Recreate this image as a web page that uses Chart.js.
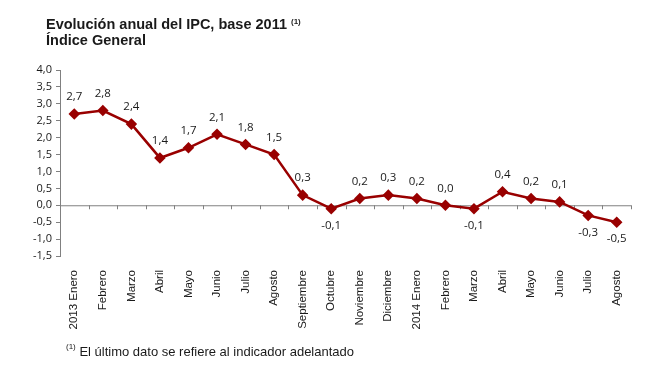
<!DOCTYPE html>
<html>
<head>
<meta charset="utf-8">
<script src="https://cdn.jsdelivr.net/npm/chart.js@4"></script>
<style>
  body { margin: 0; background: #fff; }
  #wrap { position: relative; width: 650px; height: 376px; }
  #chart { position: absolute; left: 0; top: 0; }
  .title { position: absolute; left: 46px; top: 16px; font: bold 14.5px "Liberation Sans", Arial, sans-serif; color: #1a1a1a; line-height: 16px; }
  .title sup, .note sup { font-size: 8px; vertical-align: top; position: relative; top: -2px; }
  .note { position: absolute; left: 66px; top: 344px; font: 13px "Liberation Sans", Arial, sans-serif; color: #1a1a1a; }
</style>
</head>
<body>
<div id="wrap">
  <canvas id="chart" width="650" height="376"></canvas>
  <div class="title">Evolución anual del IPC, base 2011 <sup>(1)</sup><br>Índice General</div>
  <div class="note"><sup>(1)</sup> El último dato se refiere al indicador adelantado</div>
</div>
<script>
var months = ['2013 Enero', 'Febrero', 'Marzo', 'Abril', 'Mayo', 'Junio', 'Julio', 'Agosto',
  'Septiembre', 'Octubre', 'Noviembre', 'Diciembre', '2014 Enero', 'Febrero', 'Marzo',
  'Abril', 'Mayo', 'Junio', 'Julio', 'Agosto'];
var ipc = [2.7, 2.8, 2.4, 1.4, 1.7, 2.1, 1.8, 1.5, 0.3, -0.1, 0.2, 0.3, 0.2, 0.0, -0.1,
  0.4, 0.2, 0.1, -0.3, -0.5];
var yTicks = [4.0, 3.5, 3.0, 2.5, 2.0, 1.5, 1.0, 0.5, 0.0, -0.5, -1.0, -1.5];

function fmt(v) {
  return v.toFixed(1).replace('.', ',');
}

// value labels above / below each point
var valueLabels = {
  id: 'valueLabels',
  afterDatasetsDraw: function (chart) {
    var ctx = chart.ctx;
    var meta = chart.getDatasetMeta(0);
    ctx.save();
    ctx.font = '11.5px "Open Sans", "Liberation Sans", sans-serif';
    ctx.fillStyle = '#1a1a1a';
    ctx.textAlign = 'center';
    ctx.textBaseline = 'middle';
    meta.data.forEach(function (pt, i) {
      var v = ipc[i];
      var dy = v < 0 ? 17 : -17;
      ctx.fillText(fmt(v), pt.x, pt.y + dy);
    });
    ctx.restore();
  }
};

var ctx = document.getElementById('chart').getContext('2d');
var chart = new Chart(ctx, {
  type: 'line',
  data: {
    labels: months,
    datasets: [{
      data: ipc,
      borderColor: '#990000',
      backgroundColor: '#990000',
      borderWidth: 2.5,
      pointStyle: 'rectRot',
      pointRadius: 4,
      pointHoverRadius: 4,
      tension: 0
    }]
  },
  options: {
    responsive: false,
    animation: false,
    layout: { padding: { left: 0, right: 19, top: 70, bottom: 0 } },
    plugins: { legend: { display: false }, tooltip: { enabled: false } },
    scales: {
      x: {
        offset: true,
        grid: { display: false },
        border: { display: false },
        ticks: {
          autoSkip: false,
          minRotation: 90,
          maxRotation: 90,
          padding: 6,
          color: '#1a1a1a',
          font: { family: '"Liberation Sans", Arial, sans-serif', size: 11.5 }
        },
        afterFit: function (s) { s.height = 120; }
      },
      y: {
        min: -1.5,
        max: 4.0,
        afterBuildTicks: function (s) {
          s.ticks = yTicks.map(function (v) { return { value: v }; });
        },
        grid: {
          drawOnChartArea: false,
          tickLength: 4,
          color: '#808080'
        },
        border: { color: '#808080', width: 1 },
        ticks: {
          padding: 4,
          color: '#1a1a1a',
          font: { family: '"Open Sans", "Liberation Sans", sans-serif', size: 11 },
          callback: function (v) { return fmt(v); }
        },
        afterFit: function (s) { s.width = 60; }
      }
    }
  },
  plugins: [valueLabels, {
    // zero line acting as the category axis
    id: 'zeroLine',
    beforeDatasetsDraw: function (c) {
      var y0 = c.scales.y.getPixelForValue(0);
      var g = c.ctx;
      g.save();
      g.strokeStyle = '#808080';
      g.lineWidth = 1;
      g.beginPath();
      g.moveTo(c.chartArea.left, y0 + 0.5);
      g.lineTo(c.chartArea.right, y0 + 0.5);
      for (var i = 1; i <= months.length; i++) {
        var px = Math.round(c.chartArea.left + i * (c.chartArea.right - c.chartArea.left) / months.length) + 0.5;
        g.moveTo(px, y0);
        g.lineTo(px, y0 + 4);
      }
      g.stroke();
      g.restore();
    }
  }]
});
</script>
</body>
</html>
